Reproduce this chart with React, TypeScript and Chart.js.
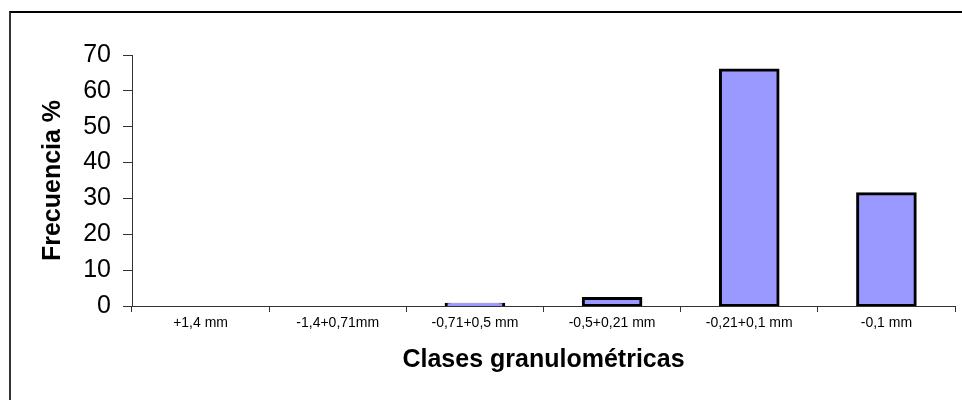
import React, { useEffect, useRef } from "react";
import { Chart, registerables } from "chart.js";

Chart.register(...registerables);

const categories = ["+1,4 mm", "-1,4+0,71mm", "-0,71+0,5 mm", "-0,5+0,21 mm", "-0,21+0,1 mm", "-0,1 mm"];
const frecuencia = [0, 0, 0.5, 2.1, 65.8, 31.3];
const yTicks = [0, 10, 20, 30, 40, 50, 60, 70];
const yTitle = "Frecuencia %";
const xTitle = "Clases granulométricas";

export default function App() {
  const ref = useRef<HTMLCanvasElement | null>(null);
  useEffect(() => {
    document.body.style.overflow = "hidden";
    const ctx = ref.current!;
    const chart = new Chart(ctx, {
      type: "bar",
      data: {
        labels: categories,
        datasets: [
          {
            data: frecuencia,
            backgroundColor: "#9999FF",
            borderColor: "#000000",
            borderWidth: 3,
            borderSkipped: false,
            inflateAmount: 1.5,
            barPercentage: 1,
            categoryPercentage: 0.42,
          },
        ],
      },
      options: {
        animation: false,
        responsive: false,
        maintainAspectRatio: false,
        layout: { padding: { top: 55, right: 7, left: 0, bottom: 0 } },
        plugins: { legend: { display: false }, tooltip: { enabled: false } },
        scales: {
          x: {
            afterFit: (s: any) => {
              s.height = 94;
            },
            grid: {
              display: true,
              drawOnChartArea: false,
              drawTicks: true,
              tickLength: 6,
              color: "#333",
              offset: true,
            },
            border: { display: true, color: "#333", width: 1 },
            ticks: {
              color: "#000",
              font: { family: "Arial, 'Liberation Sans'", size: 14 },
              padding: 3,
              maxRotation: 0,
              autoSkip: false,
            },
            title: {
              display: true,
              text: xTitle,
              color: "#000",
              font: { family: "Arial, 'Liberation Sans'", size: 25, weight: "bold" },
              padding: { top: 0, bottom: 25 },
            },
          },
          y: {
            min: 0,
            max: 70,
            afterFit: (s: any) => {
              s.width = 132;
            },
            afterBuildTicks: (s: any) => {
              s.ticks = yTicks.map((v) => ({ value: v }));
            },
            grid: {
              display: true,
              drawOnChartArea: false,
              drawTicks: true,
              tickLength: 9,
              color: "#333",
            },
            border: { display: true, color: "#333", width: 1 },
            ticks: {
              color: "#000",
              font: { family: "Arial, 'Liberation Sans'", size: 25 },
              padding: 12,
            },
            title: {
              display: true,
              text: yTitle,
              color: "#000",
              font: { family: "Arial, 'Liberation Sans'", size: 25, weight: "bold" },
              padding: { top: 38, bottom: 0 },
            },
          },
        },
      },
    });
    return () => chart.destroy();
  }, []);
  return (
    <div>
      <div
        style={{
          position: "fixed",
          left: 0,
          top: 0,
          width: 962,
          height: 400,
          background: "#fff",
        }}
      >
        <canvas ref={ref} width={962} height={400} style={{ display: "block" }} />
      </div>
      <div
        style={{
          position: "fixed",
          left: 9,
          top: 11,
          width: 1000,
          height: 500,
          borderLeft: "2px solid #333",
          borderTop: "2px solid #000",
          pointerEvents: "none",
        }}
      />
    </div>
  );
}
